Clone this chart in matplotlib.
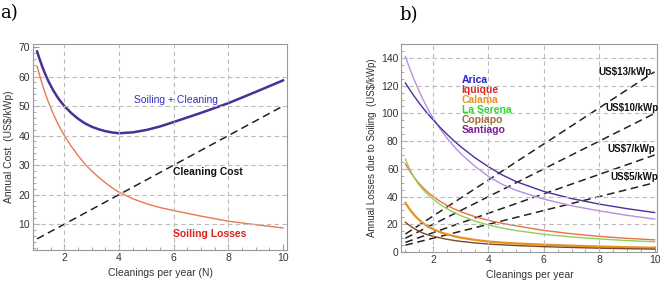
import numpy as np
import matplotlib.pyplot as plt
from matplotlib.ticker import MultipleLocator

plt.rcParams['font.family'] = ['Liberation Sans', 'DejaVu Sans']

# ---- panel a) : cost vs cleanings per year ----
n_a = [1, 1.1, 1.2, 1.3, 1.4, 1.5, 1.6, 1.7, 1.8, 1.9, 2, 2.25, 2.5, 2.75, 3,
       3.25, 3.5, 3.75, 4, 4.5, 5, 5.5, 6, 7, 8, 9, 10]
soiling_a = [63.5, 60.2, 57.1, 54.3, 51.7, 49.4, 47.2, 45.2, 43.3, 41.6, 40.0,
             36.4, 33.2, 30.4, 28.0, 25.9, 24.0, 22.3, 20.8, 18.6, 16.9, 15.6,
             14.6, 12.7, 11.0, 9.8, 8.7]
cleaning_rate_a = 5  # US$/kWp per cleaning

# ---- panel b) : losses per site ----
n_b = [1, 1.1, 1.2, 1.3, 1.4, 1.5, 1.6, 1.7, 1.8, 1.9, 2, 2.25, 2.5, 2.75, 3,
       3.5, 4, 4.5, 5, 6, 7, 8, 9, 10]
sites = ['Arica', 'Iquique', 'Calama', 'La Serena', 'Copiapo', 'Santiago']
site_colors = ['#2323d0', '#e82020', '#f0901c', '#2fd62f', '#a06a35', '#7d1f9c']
losses = {
    'Arica':     [122, 118.8, 115.8, 112.9, 110.1, 107.4, 104.8, 102.3, 99.9, 97.6, 95.4,
                  90.0, 85.0, 80.3, 76.0, 68.2, 61.5, 55.6, 50.8, 43.7, 38.6, 34.6, 31.3, 28.5],
    'Santiago':  [141, 135.4, 130.1, 125.1, 120.4, 115.9, 111.6, 107.5, 103.6, 100.0, 96.5,
                  89.0, 82.2, 76.3, 71.0, 62.0, 54.5, 48.8, 44.5, 38.2, 33.4, 29.7, 26.5, 23.8],
    'Iquique':   [63.5, 60.2, 57.1, 54.3, 51.7, 49.4, 47.2, 45.2, 43.3, 41.6, 40.0,
                  36.6, 33.7, 31.2, 29.0, 25.6, 22.9, 20.7, 18.9, 15.6, 13.2, 11.3, 9.9, 8.8],
    'La Serena': [67, 62.2, 58.0, 54.3, 51.1, 48.3, 45.8, 43.6, 41.6, 39.8, 38.2,
                  34.4, 31.3, 28.6, 26.3, 22.4, 19.5, 17.3, 15.5, 12.8, 10.9, 9.5, 8.3, 7.4],
    'Calama':    [35.5, 32.4, 29.65, 27.2, 25.05, 23.15, 21.45, 19.95, 18.65, 17.5, 16.5,
                  14.4, 12.8, 11.5, 10.4, 8.8, 7.6, 6.8, 6.2, 5.3, 4.6, 4.0, 3.5, 3.1],
    'Copiapo':   [21.5, 19.9, 18.45, 17.15, 16.0, 14.95, 14.0, 13.2, 12.5, 11.9, 11.4,
                  10.2, 9.2, 8.4, 7.7, 6.6, 5.8, 5.2, 4.7, 3.9, 3.3, 2.8, 2.4, 2.1],
}
curve_colors = {'Arica': '#4a2f98', 'Santiago': '#b88ee0', 'Iquique': '#e8704a',
                'La Serena': '#92cf55', 'Calama': '#e8901c', 'Copiapo': '#7a4a25'}
cleaning_prices = [13, 10, 7, 5]
price_label_pos = [(7.98, 130), (8.23, 104), (8.3, 74), (8.4, 54)]

dash = (0, (5, 3))
grid_kw = dict(color='#bbbbbb', linestyle=(0, (4, 3)), linewidth=0.8)


def style_frame(ax):
    for s in ax.spines.values():
        s.set_color('#999999')
        s.set_linewidth(0.8)
    ax.tick_params(which='both', direction='in', colors='#999999', labelcolor='#333333',
                   labelsize=7.5, pad=2)
    ax.tick_params(which='major', length=4)
    ax.tick_params(which='minor', length=2)
    ax.set_axisbelow(True)


fig = plt.figure(figsize=(6.6, 2.81), dpi=100)

# panel a
ax1 = fig.add_axes([0.05, 0.11, 0.385, 0.733])
na = np.array(n_a)
sa = np.array(soiling_a)
ca = cleaning_rate_a * na
ax1.plot(na, ca, color='#222222', linestyle=dash, linewidth=1.1)
ax1.plot(na, sa, color='#e8784f', linewidth=1.0)
ax1.plot(na, sa + ca, color='#4a2f98', linewidth=1.8)
ax1.set_xlim(0.85, 10.15)
ax1.set_ylim(1.2, 71)
ax1.xaxis.set_major_locator(MultipleLocator(2))
ax1.xaxis.set_minor_locator(MultipleLocator(0.5))
ax1.yaxis.set_minor_locator(MultipleLocator(2))
ax1.set_yticks([10, 20, 30, 40, 50, 60, 70])
for x in [2, 4, 6, 8]:
    ax1.axvline(x, **grid_kw)
for y in [10, 20, 30, 40, 50, 60]:
    ax1.axhline(y, **grid_kw)
style_frame(ax1)
ax1.set_xlabel('Cleanings per year (N)', fontsize=7.5, color='#333333', labelpad=4)
ax1.set_ylabel('Annual Cost  (US$/kWp)', fontsize=7.5, color='#333333', labelpad=3)
ax1.text(6.1, 52, 'Soiling + Cleaning', color='#3030c8', fontsize=7.5, ha='center', va='center')
ax1.text(5.98, 27.6, 'Cleaning Cost', color='#111111', fontsize=7.5, fontweight='bold', va='center')
ax1.text(5.98, 6.6, 'Soiling Losses', color='#e02020', fontsize=7.5, fontweight='bold', va='center')
fig.text(0.0, 0.955, 'a)', fontsize=13, family='DejaVu Serif', va='center')

# panel b
ax2 = fig.add_axes([0.608, 0.103, 0.388, 0.74])
nb = np.array(n_b)
for p in cleaning_prices:
    ax2.plot(nb, p * nb, color='#222222', linestyle=dash, linewidth=1.1)
for site in ['Santiago', 'Arica', 'Iquique', 'La Serena', 'Calama', 'Copiapo']:
    lw = 1.6 if site == 'Calama' else 1.0
    ax2.plot(nb, losses[site], color=curve_colors[site], linewidth=lw)
ax2.set_xlim(0.85, 10.1)
ax2.set_ylim(0, 150)
ax2.xaxis.set_major_locator(MultipleLocator(2))
ax2.xaxis.set_minor_locator(MultipleLocator(0.5))
ax2.yaxis.set_major_locator(MultipleLocator(20))
ax2.yaxis.set_minor_locator(MultipleLocator(5))
for x in [2, 4, 6, 8]:
    ax2.axvline(x, **grid_kw)
for y in [20, 40, 60, 80, 100, 120, 140]:
    ax2.axhline(y, **grid_kw)
style_frame(ax2)
ax2.set_xlabel('Cleanings per year', fontsize=7.5, color='#333333', labelpad=4)
ax2.set_ylabel('Annual Losses due to Soiling  (US$/kWp)', fontsize=7, color='#333333', labelpad=3)
for i, (site, col) in enumerate(zip(sites, site_colors)):
    ax2.text(3.03, 124 - i * 7.2, site, color=col, fontsize=7.5, fontweight='bold', va='center')
for p, (tx, ty) in zip(cleaning_prices, price_label_pos):
    ax2.text(tx, ty, f'US${p}/kWp', color='#111111', fontsize=7, fontweight='bold', va='center')
fig.text(0.605, 0.945, 'b)', fontsize=13, family='DejaVu Serif', va='center')

fig.savefig('out.png', dpi=100)
